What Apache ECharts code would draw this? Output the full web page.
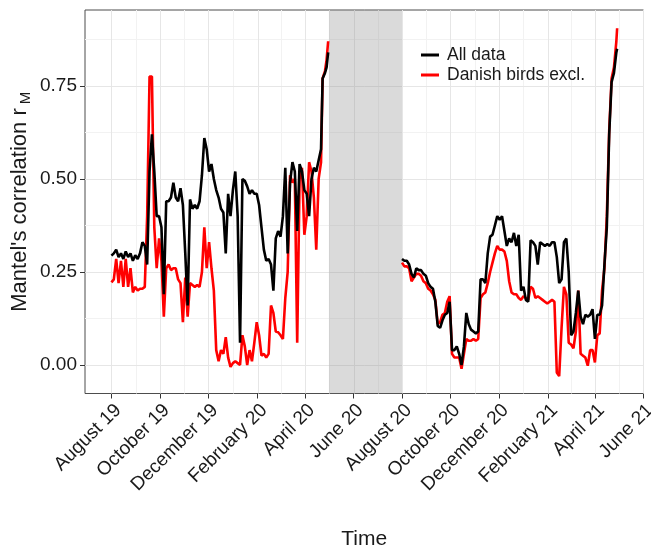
<!DOCTYPE html>
<html>
<head>
<meta charset="utf-8">
<script src="https://cdn.jsdelivr.net/npm/echarts@6/dist/echarts.min.js"></script>
<style>
html, body { margin: 0; padding: 0; background: #fff; }
#chart { width: 651px; height: 549px; }
</style>
</head>
<body>
<div id="chart"></div>
<script>
// Mantel's correlation over time, two series, gap during the shaded summer 2020
var dates = [
  '2019-08-01','2019-08-04','2019-08-07','2019-08-10','2019-08-13','2019-08-16','2019-08-19','2019-08-22','2019-08-25','2019-08-28','2019-08-31',
  '2019-09-03','2019-09-06','2019-09-09','2019-09-12','2019-09-15','2019-09-18','2019-09-21','2019-09-24','2019-09-27','2019-09-30',
  '2019-10-03','2019-10-06','2019-10-09','2019-10-12','2019-10-15','2019-10-18','2019-10-21','2019-10-24','2019-10-27','2019-10-30',
  '2019-11-02','2019-11-05','2019-11-08','2019-11-11','2019-11-14','2019-11-17','2019-11-20','2019-11-23','2019-11-26','2019-11-29',
  '2019-12-02','2019-12-05','2019-12-08','2019-12-11','2019-12-14','2019-12-17','2019-12-20','2019-12-23','2019-12-26','2019-12-29',
  '2020-01-01','2020-01-04','2020-01-07','2020-01-10','2020-01-13','2020-01-16','2020-01-19','2020-01-22','2020-01-25','2020-01-28','2020-01-31',
  '2020-02-03','2020-02-06','2020-02-09','2020-02-12','2020-02-15','2020-02-18','2020-02-21','2020-02-24','2020-02-27',
  '2020-03-01','2020-03-04','2020-03-07','2020-03-10','2020-03-13','2020-03-16','2020-03-19','2020-03-22','2020-03-25','2020-03-28','2020-03-31',
  '2020-04-03','2020-04-06','2020-04-09','2020-04-12','2020-04-15','2020-04-18','2020-04-21','2020-04-23','2020-04-26','2020-04-28','2020-04-30',
  '2020-06-15',
  '2020-08-01','2020-08-04','2020-08-07','2020-08-10','2020-08-13','2020-08-16','2020-08-19','2020-08-22','2020-08-25','2020-08-28','2020-08-31',
  '2020-09-03','2020-09-06','2020-09-09','2020-09-12','2020-09-15','2020-09-18','2020-09-21','2020-09-24','2020-09-27','2020-09-30',
  '2020-10-03','2020-10-06','2020-10-09','2020-10-12','2020-10-15','2020-10-18','2020-10-21','2020-10-24','2020-10-27','2020-10-30',
  '2020-11-02','2020-11-05','2020-11-08','2020-11-11','2020-11-14','2020-11-17','2020-11-20','2020-11-23','2020-11-26','2020-11-29',
  '2020-12-02','2020-12-05','2020-12-08','2020-12-11','2020-12-14','2020-12-17','2020-12-20','2020-12-23','2020-12-26','2020-12-29',
  '2021-01-01','2021-01-04','2021-01-07','2021-01-10','2021-01-13','2021-01-16','2021-01-19','2021-01-22','2021-01-25','2021-01-28','2021-01-31',
  '2021-02-03','2021-02-06','2021-02-09','2021-02-12','2021-02-15','2021-02-18','2021-02-21','2021-02-24','2021-02-27',
  '2021-03-02','2021-03-05','2021-03-08','2021-03-11','2021-03-14','2021-03-17','2021-03-20','2021-03-23','2021-03-26','2021-03-29',
  '2021-04-01','2021-04-04','2021-04-07','2021-04-10','2021-04-13','2021-04-16','2021-04-19','2021-04-22','2021-04-25','2021-04-28','2021-04-29'
];
var allData = [
  0.294,0.30,0.31,0.29,0.30,0.285,0.305,0.29,0.30,0.28,0.295,
  0.285,0.30,0.33,0.32,0.27,0.52,0.62,0.52,0.40,0.40,
  0.37,0.19,0.44,0.44,0.45,0.49,0.45,0.44,0.475,0.43,
  0.30,0.16,0.445,0.42,0.43,0.42,0.44,0.51,0.61,0.58,
  0.52,0.54,0.50,0.47,0.45,0.42,0.41,0.30,0.46,0.40,
  0.47,0.52,0.40,0.06,0.50,0.495,0.48,0.46,0.47,0.46,0.46,
  0.43,0.37,0.31,0.28,0.285,0.27,0.20,0.34,0.36,
  0.345,0.40,0.53,0.30,0.49,0.545,0.52,0.36,0.54,0.52,0.47,
  0.46,0.40,0.50,0.53,0.52,0.55,0.58,0.77,0.785,0.80,0.84,
  null,
  0.285,0.28,0.28,0.27,0.245,0.235,0.26,0.255,0.255,0.245,0.24,
  0.22,0.21,0.205,0.17,0.105,0.10,0.12,0.135,0.14,0.17,
  0.04,0.04,0.05,0.03,0.0,0.05,0.14,0.11,0.095,0.09,
  0.085,0.09,0.23,0.23,0.22,0.30,0.345,0.35,0.375,0.40,
  0.39,0.40,0.36,0.32,0.34,0.33,0.355,0.32,0.35,0.20,
  0.21,0.175,0.17,0.335,0.33,0.32,0.27,0.33,0.325,0.32,0.325,
  0.32,0.33,0.33,0.29,0.22,0.23,0.33,0.34,0.25,
  0.08,0.09,0.14,0.20,0.13,0.11,0.135,0.13,0.135,0.15,
  0.07,0.135,0.135,0.16,0.27,0.37,0.62,0.76,0.785,0.84,0.85
];
var danishExcl = [
  0.222,0.23,0.285,0.22,0.28,0.21,0.285,0.21,0.26,0.195,0.21,
  0.20,0.205,0.205,0.21,0.40,0.775,0.775,0.37,0.26,0.34,
  0.28,0.13,0.26,0.27,0.255,0.26,0.26,0.23,0.22,0.115,
  0.235,0.13,0.22,0.215,0.21,0.215,0.21,0.25,0.37,0.26,
  0.33,0.26,0.20,0.04,0.01,0.04,0.03,0.075,0.02,-0.005,
  0.005,0.01,0.005,0.0,0.08,0.05,0.0,0.04,0.01,0.06,0.115,
  0.08,0.025,0.03,0.02,0.03,0.16,0.14,0.09,0.088,
  0.08,0.07,0.18,0.25,0.51,0.49,0.50,0.06,0.50,0.53,0.35,
  0.40,0.545,0.52,0.45,0.31,0.50,0.545,0.77,0.79,0.82,0.87,
  null,
  0.275,0.265,0.265,0.26,0.225,0.235,0.245,0.245,0.24,0.225,0.22,
  0.205,0.20,0.19,0.175,0.11,0.115,0.135,0.14,0.17,0.185,
  0.03,0.02,0.02,0.02,-0.01,0.03,0.07,0.065,0.065,0.07,
  0.065,0.07,0.18,0.19,0.195,0.22,0.25,0.275,0.30,0.32,
  0.31,0.31,0.305,0.28,0.225,0.195,0.19,0.19,0.18,0.175,
  0.185,0.18,0.175,0.21,0.205,0.18,0.185,0.18,0.175,0.17,0.165,
  0.17,0.175,0.17,-0.02,-0.03,0.10,0.21,0.19,0.06,
  0.055,0.045,0.09,0.20,0.03,0.025,0.02,-0.002,0.04,0.04,
  0.007,0.08,0.085,0.20,0.26,0.40,0.63,0.77,0.80,0.87,0.905
];
var xTickDates = ['2019-08-01','2019-10-01','2019-12-01','2020-02-01','2020-04-01','2020-06-01',
  '2020-08-01','2020-10-01','2020-12-01','2021-02-01','2021-04-01','2021-06-01'];
var xTickLabels = ['August 19','October 19','December 19','February 20','April 20','June 20',
  'August 20','October 20','December 20','February 21','April 21','June 21'];
var yTicks = [0, 0.25, 0.5, 0.75];
var yMinorTicks = [0.125, 0.375, 0.625, 0.875];
var shadeStart = '2020-05-01';
var shadeEnd = '2020-08-01';

var FONT = 'Liberation Sans, Arial, sans-serif';
var DAY = 86400000;

function toTime(s) {
    var p = s.split('-');
    return Date.UTC(+p[0], +p[1] - 1, +p[2]);
}

var xTicks = xTickDates.map(toTime);
var xMinor = [];
for (var i = 0; i < xTicks.length - 1; i++) {
    xMinor.push((xTicks[i] + xTicks[i + 1]) / 2);
}
var xMin = xTicks[0] - 33.3 * DAY;
var xMax = xTicks[xTicks.length - 1] + 0.2 * DAY;

var blackData = dates.map(function (d, i) { return [toTime(d), allData[i]]; });
var redData = dates.map(function (d, i) { return [toTime(d), danishExcl[i]]; });

// grid lines drawn through the axes (custom series)
function vLines(color) {
    return function (params, api) {
        var cs = params.coordSys;
        var x = Math.round(api.coord([api.value(0), 0])[0]) + 0.5;
        return { type: 'line', shape: { x1: x, y1: cs.y, x2: x, y2: cs.y + cs.height },
                 style: { stroke: color, lineWidth: 1 } };
    };
}
function hLines(color) {
    return function (params, api) {
        var cs = params.coordSys;
        var y = Math.round(api.coord([api.value(0), api.value(1)])[1]) + 0.5;
        return { type: 'line', shape: { x1: cs.x, y1: y, x2: cs.x + cs.width, y2: y },
                 style: { stroke: color, lineWidth: 1 } };
    };
}

var myChart = echarts.init(document.getElementById('chart'), null, { renderer: 'canvas' });
var option = {
    animation: false,
    backgroundColor: '#ffffff',
    grid: {
        left: 85, top: 10, right: 7.5, bottom: 155.5,
        outerBoundsMode: 'none',
        containLabel: false,
        show: true, borderColor: '#4d4d4d', borderWidth: 1, backgroundColor: 'transparent'
    },
    legend: {
        data: ['All data', 'Danish birds excl.'],
        orient: 'vertical',
        left: 416, top: 41,
        icon: 'rect',
        itemWidth: 18, itemHeight: 3, itemGap: 2,
        textStyle: { fontFamily: FONT, fontSize: 17.5, color: '#1a1a1a', padding: [0, 0, 0, 3] }
    },
    xAxis: {
        type: 'value',
        min: xMin, max: xMax,
        name: 'Time',
        nameLocation: 'middle',
        nameGap: 135,
        nameMoveOverlap: false,
        nameTextStyle: { fontFamily: FONT, fontSize: 21, color: '#1a1a1a' },
        axisLine: { show: false, onZero: false },
        axisTick: { show: true, length: 5, lineStyle: { color: '#333' }, customValues: xTicks },
        axisLabel: {
            customValues: xTicks,
            rotate: 45,
            margin: 7,
            verticalAlign: 'top',
            fontFamily: FONT, fontSize: 19, color: '#1a1a1a',
            formatter: function (value) {
                for (var k = 0; k < xTicks.length; k++) {
                    if (Math.abs(xTicks[k] - value) < DAY) return xTickLabels[k];
                }
                return '';
            }
        },
        splitLine: { show: false }
    },
    yAxis: {
        type: 'value',
        min: -0.0766, max: 0.954,
        name: "Mantel's correlation r{sub|M}",
        nameLocation: 'middle',
        nameGap: 52,
        nameMoveOverlap: false,
        nameTextStyle: {
            fontFamily: FONT, fontSize: 22, color: '#1a1a1a',
            rich: { sub: { fontFamily: FONT, fontSize: 15, color: '#1a1a1a', padding: [12, 0, 0, 4] } }
        },
        axisLine: { show: false, onZero: false },
        axisTick: { show: true, length: 5, lineStyle: { color: '#333' }, customValues: yTicks },
        axisLabel: {
            customValues: yTicks,
            margin: 8,
            fontFamily: FONT, fontSize: 19, color: '#1a1a1a',
            formatter: function (v) { return v.toFixed(2); }
        },
        splitLine: { show: false }
    },
    series: [
        { type: 'custom', name: 'minorX', silent: true, z: 1, renderItem: vLines('#f2f2f2'),
          data: xMinor.map(function (t) { return [t, 0]; }) },
        { type: 'custom', name: 'minorY', silent: true, z: 1, renderItem: hLines('#f2f2f2'),
          data: yMinorTicks.map(function (v) { return [xTicks[0], v]; }) },
        { type: 'custom', name: 'majorX', silent: true, z: 1, renderItem: vLines('#e6e6e6'),
          data: xTicks.map(function (t) { return [t, 0]; }) },
        { type: 'custom', name: 'majorY', silent: true, z: 1, renderItem: hLines('#e6e6e6'),
          data: yTicks.map(function (v) { return [xTicks[0], v]; }) },
        { type: 'custom', name: 'shade', silent: true, z: 1,
          encode: { x: [0, 1] },
          renderItem: function (params, api) {
              var cs = params.coordSys;
              var x1 = api.coord([api.value(0), 0])[0];
              var x2 = api.coord([api.value(1), 0])[0];
              return { type: 'rect', shape: { x: x1, y: cs.y, width: x2 - x1, height: cs.height },
                       style: { fill: 'rgba(140,140,140,0.32)' } };
          },
          data: [[toTime(shadeStart), toTime(shadeEnd)]] },
        { type: 'line', name: 'Danish birds excl.', data: redData, z: 2,
          showSymbol: false, symbol: 'none', connectNulls: false,
          color: '#ff0000', lineStyle: { color: '#ff0000', width: 2.6 } },
        { type: 'line', name: 'All data', data: blackData, z: 3,
          showSymbol: false, symbol: 'none', connectNulls: false,
          color: '#000000', lineStyle: { color: '#000000', width: 2.6 } }
    ]
};
myChart.setOption(option);
</script>
</body>
</html>
